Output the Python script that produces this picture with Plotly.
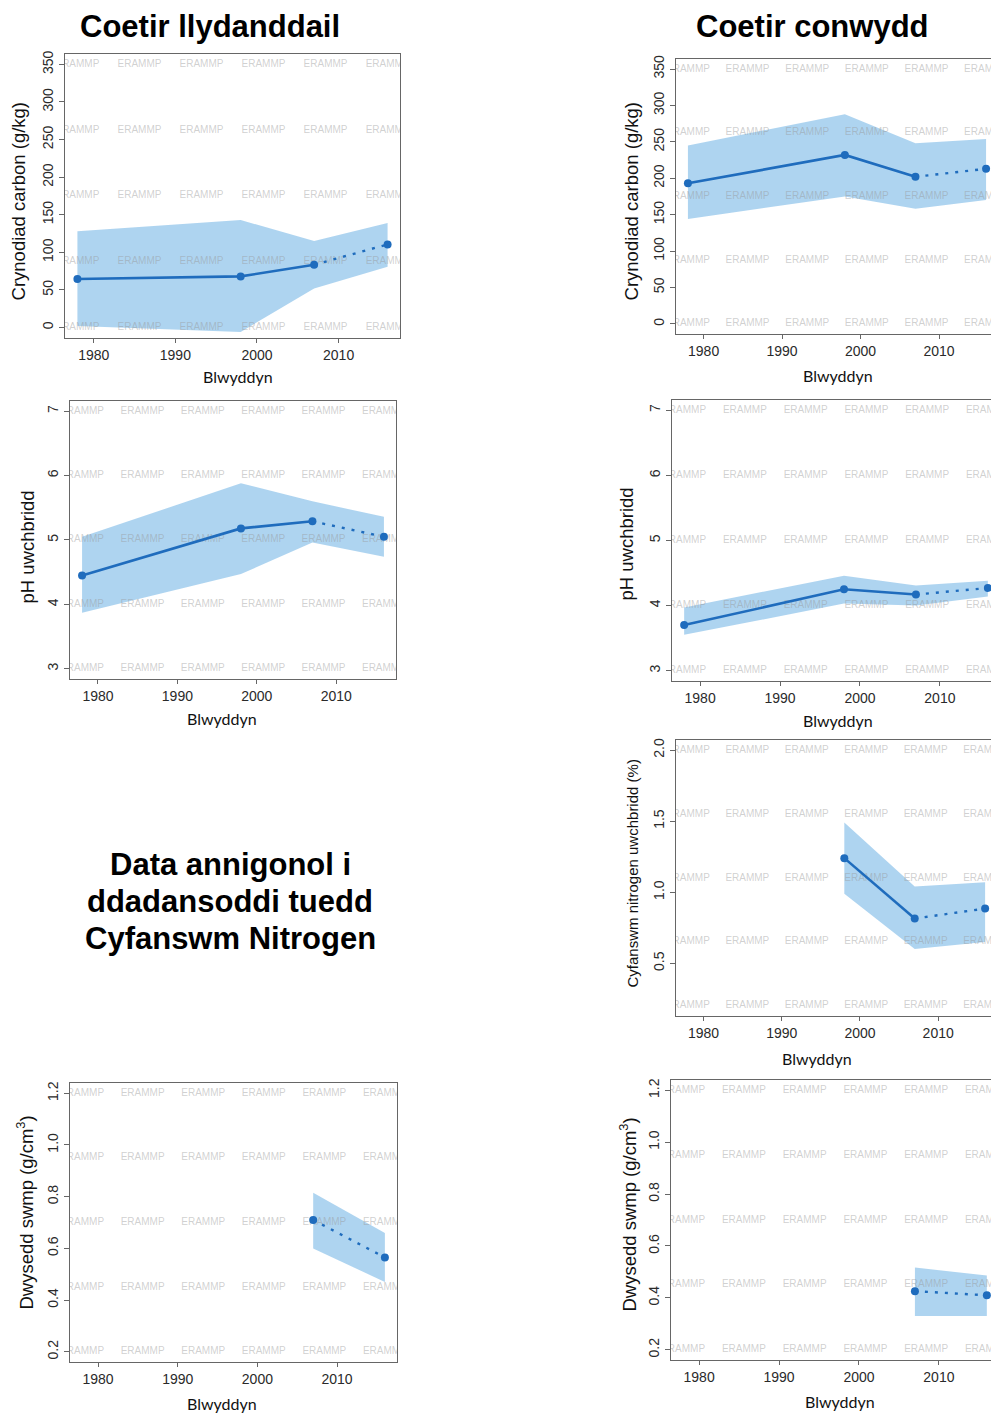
import plotly.graph_objects as go

W, H = 991, 1414

# ---------------- data ----------------
years_all = [1978, 1998, 2007, 2016]
years_n = [1998, 2007, 2016]
years_bd = [2007, 2016]

carbon_llydan_mean = [64.5, 68, 83.5, 110.5]
carbon_llydan_lo = [2, -6, 52, 81]
carbon_llydan_hi = [128, 143, 115, 139]

carbon_conw_mean = [193, 232, 202, 213]
carbon_conw_lo = [144, 175, 158, 170]
carbon_conw_hi = [245, 288, 248, 254]

ph_llydan_mean = [4.45, 5.18, 5.29, 5.05]
ph_llydan_lo = [3.87, 4.47, 4.96, 4.74]
ph_llydan_hi = [5.05, 5.88, 5.60, 5.36]

ph_conw_mean = [3.7, 4.25, 4.17, 4.27]
ph_conw_lo = [3.55, 4.03, 4.00, 4.14]
ph_conw_hi = [3.97, 4.46, 4.31, 4.38]

n_conw_mean = [1.24, 0.815, 0.885]
n_conw_lo = [0.99, 0.60, 0.65]
n_conw_hi = [1.49, 1.04, 1.07]

bd_llydan_mean = [0.71, 0.565]
bd_llydan_lo = [0.60, 0.47]
bd_llydan_hi = [0.815, 0.66]

bd_conw_mean = [0.426, 0.41]
bd_conw_lo = [0.33, 0.33]
bd_conw_hi = [0.517, 0.486]

x_ticks = [1980, 1990, 2000, 2010]
carbon_ticks = [0, 50, 100, 150, 200, 250, 300, 350]
ph_ticks = [3, 4, 5, 6, 7]
n_ticks = [0.5, 1.0, 1.5, 2.0]
bd_ticks = [0.2, 0.4, 0.6, 0.8, 1.0, 1.2]

carbon_label = "Crynodiad carbon (g/kg)"
ph_label = "pH uwchbridd"
n_label = "Cyfanswm nitrogen uwchbridd (%)"
bd_label = "Dwysedd swmp (g/cm<sup>3</sup>)"
x_label = "Blwyddyn"
watermark = "ERAMMP"

# ---------------- styling ----------------
LINE = "#1f6cbd"
BAND = "rgba(160,205,237,0.85)"
WM = "rgba(150,150,150,0.45)"
AXIS = "#666666"
TICKFONT = dict(family="Liberation Sans, Arial", size=14, color="#2a2a2a")
YEAR_LIM = (1978, 2016)

fig = go.Figure()


def padded(lo, hi):
    d = (hi - lo) * 0.04
    return [lo - d, hi + d]


def add_panel(idx, box, years, mean, lo, hi, ylim, yticks, ylab,
              ylab_pos, xlab_pos, ylab_size=18.5, ydigits=0):
    l, t, r, b = box
    xr = padded(*YEAR_LIM)
    right_px = min(r, W)
    if r > W:
        xr = [xr[0], xr[0] + (xr[1] - xr[0]) * (W - l) / (r - l)]
    yr = padded(*ylim)
    xa = "x" if idx == 1 else f"x{idx}"
    ya = "y" if idx == 1 else f"y{idx}"

    # watermark grid: 6 columns across the survey years, 5 rows over ylim
    wx, wy = [], []
    for i in range(5):
        for j in range(6):
            wx.append(YEAR_LIM[0] + j * (YEAR_LIM[1] - YEAR_LIM[0]) / 5)
            wy.append(ylim[1] - i * (ylim[1] - ylim[0]) / 4)

    # uncertainty band
    fig.add_trace(go.Scatter(
        x=list(years) + list(years)[::-1], y=list(lo) + list(hi)[::-1],
        fill="toself", fillcolor=BAND, line=dict(width=0), mode="lines",
        xaxis=xa, yaxis=ya, hoverinfo="skip", showlegend=False))
    fig.add_trace(go.Scatter(
        x=wx, y=wy, mode="text", text=[watermark] * len(wx),
        textfont=dict(family="Liberation Sans, Arial", size=10, color=WM),
        cliponaxis=True, xaxis=xa, yaxis=ya, hoverinfo="skip", showlegend=False))

    # solid trend up to 2007, dotted from 2007 onwards
    k = list(years).index(2007)
    if k > 0:
        fig.add_trace(go.Scatter(
            x=years[:k + 1], y=mean[:k + 1], mode="lines",
            line=dict(color=LINE, width=2.6), xaxis=xa, yaxis=ya,
            showlegend=False))
    fig.add_trace(go.Scatter(
        x=years[k:], y=mean[k:], mode="lines",
        line=dict(color=LINE, width=2.4, dash="3px,7px"), xaxis=xa, yaxis=ya,
        showlegend=False))
    fig.add_trace(go.Scatter(
        x=years, y=mean, mode="markers", marker=dict(color=LINE, size=8),
        cliponaxis=True, xaxis=xa, yaxis=ya, showlegend=False))

    xkey = "xaxis" if idx == 1 else f"xaxis{idx}"
    ykey = "yaxis" if idx == 1 else f"yaxis{idx}"
    fig.update_layout(**{
        xkey: dict(domain=[l / W, right_px / W], range=xr, anchor=ya,
                   tickvals=x_ticks, ticks="outside", ticklen=4,
                   tickcolor=AXIS, showline=True, linecolor=AXIS,
                   linewidth=1, mirror=True, showgrid=False, zeroline=False,
                   tickfont=TICKFONT, fixedrange=True),
        ykey: dict(domain=[1 - b / H, 1 - t / H], range=yr, anchor=xa,
                   tickvals=yticks,
                   ticktext=[f"{v:.{ydigits}f}" for v in yticks],
                   ticks="outside", ticklen=5,
                   tickcolor=AXIS, tickangle=-90, showline=True,
                   linecolor=AXIS, linewidth=1, mirror=(r <= W),
                   showgrid=False, zeroline=False, tickfont=TICKFONT,
                   fixedrange=True),
    })
    fig.add_annotation(x=ylab_pos[0] / W, y=1 - ylab_pos[1] / H, xref="paper",
                       yref="paper", text=ylab, textangle=-90,
                       xanchor="center", yanchor="middle", showarrow=False,
                       font=dict(family="Liberation Sans, Arial",
                                 size=ylab_size, color="#111111"))
    fig.add_annotation(x=xlab_pos[0] / W, y=1 - xlab_pos[1] / H, xref="paper",
                       yref="paper", text=x_label, xanchor="center",
                       yanchor="middle", showarrow=False,
                       font=dict(family="Lato, Open Sans", size=16,
                                 color="#111111"))


add_panel(1, (65, 50, 400, 335), years_all, carbon_llydan_mean,
          carbon_llydan_lo, carbon_llydan_hi, (0, 350), carbon_ticks,
          carbon_label, (18, 198), (238, 374))
add_panel(2, (676, 55, 998, 331), years_all, carbon_conw_mean,
          carbon_conw_lo, carbon_conw_hi, (0, 350), carbon_ticks,
          carbon_label, (631, 198), (838, 373))
add_panel(3, (70, 398, 396, 677), years_all, ph_llydan_mean,
          ph_llydan_lo, ph_llydan_hi, (3, 7), ph_ticks,
          ph_label, (27, 545), (222, 717))
add_panel(4, (672, 397, 1000, 679), years_all, ph_conw_mean,
          ph_conw_lo, ph_conw_hi, (3, 7), ph_ticks,
          ph_label, (626, 542), (838, 719))
add_panel(5, (676, 738, 997, 1015), years_n, n_conw_mean,
          n_conw_lo, n_conw_hi, (0.2, 2.0), n_ticks,
          n_label, (633, 872), (817, 1057), ylab_size=15, ydigits=1)
add_panel(6, (70, 1082, 397, 1362), years_bd, bd_llydan_mean,
          bd_llydan_lo, bd_llydan_hi, (0.2, 1.2), bd_ticks,
          bd_label, (25, 1212), (222, 1403), ydigits=1)
add_panel(7, (671, 1079, 999, 1360), years_bd, bd_conw_mean,
          bd_conw_lo, bd_conw_hi, (0.2, 1.2), bd_ticks,
          bd_label, (628, 1214), (840, 1401), ydigits=1)

TITLE_FONT = dict(family="Liberation Sans, Arial", size=31, color="#000000")
for text, x, y in [("<b>Coetir llydanddail</b>", 210, 23),
                   ("<b>Coetir conwydd</b>", 812, 23),
                   ("<b>Data annigonol i</b>", 230, 863),
                   ("<b>ddadansoddi tuedd</b>", 230, 900),
                   ("<b>Cyfanswm Nitrogen</b>", 230, 937)]:
    fig.add_annotation(x=x / W, y=1 - y / H, xref="paper", yref="paper",
                       text=text, xanchor="center", yanchor="middle",
                       showarrow=False, font=TITLE_FONT)

fig.update_layout(width=W, height=H, margin=dict(l=0, r=0, t=0, b=0),
                  paper_bgcolor="white", plot_bgcolor="white",
                  showlegend=False)

fig.write_html("out.html")
